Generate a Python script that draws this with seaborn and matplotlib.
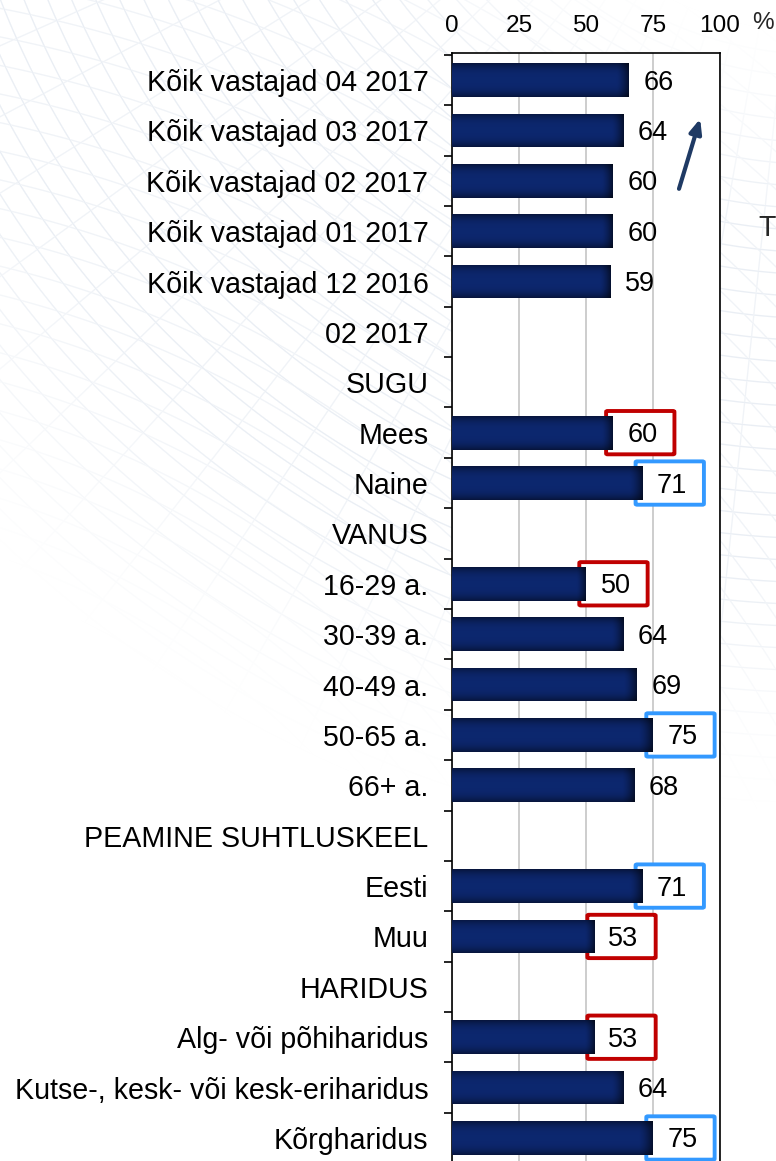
import numpy as np
import pandas as pd
import matplotlib
matplotlib.use("Agg")
import matplotlib.pyplot as plt
from matplotlib.patches import FancyBboxPatch
import seaborn as sns

# ---- data -------------------------------------------------------------
categories = [
    "Kõik vastajad 04 2017", "Kõik vastajad 03 2017", "Kõik vastajad 02 2017",
    "Kõik vastajad 01 2017", "Kõik vastajad 12 2016", "02 2017", "SUGU",
    "Mees", "Naine", "VANUS", "16-29 a.", "30-39 a.", "40-49 a.", "50-65 a.",
    "66+ a.", "PEAMINE SUHTLUSKEEL", "Eesti", "Muu", "HARIDUS",
    "Alg- või põhiharidus", "Kutse-, kesk- või kesk-eriharidus", "Kõrgharidus",
]
values = [66, 64, 60, 60, 59, None, None,
          60, 71, None, 50, 64, 69, 75,
          68, None, 71, 53, None,
          53, 64, 75]
# highlight: "low" = red frame, "high" = blue frame
highlight = [None, None, None, None, None, None, None,
             "low", "high", None, "low", None, None, "high",
             None, None, "high", "low", None,
             "low", None, "high"]
x_ticks = [0, 25, 50, 75, 100]

df = pd.DataFrame({"group": categories, "pct": values, "mark": highlight})
df_bars = df.dropna(subset=["pct"])

FONT = "Liberation Sans"
FS_CAT = 20.6
FS_VAL = 19.5
FS_TICK = 17.6
BAR = "#0b2260"
EDGE_COLORS = {"low": "#c00000", "high": "#3399ff"}

sns.set_theme(style="white")
plt.rcParams["font.family"] = [FONT, "DejaVu Sans"]

W, H = 776, 1161
fig = plt.figure(figsize=(W / 100, H / 100), dpi=100)

# ---- decorative slide background: faint curved grid ---------------------
bg = fig.add_axes([0, 0, 1, 1], zorder=0)
yy, xx = np.mgrid[0:H, 0:W].astype(float)
cx, cy = 820.0, -320.0
r = np.hypot(xx - cx, yy - cy)
th = np.degrees(np.arctan2(yy - cy, xx - cx))
d_ring = np.abs((r + 11) % 22 - 11)
ring = np.clip(1.2 - d_ring, 0, 1)
d_rad = np.abs((th + 2.0) % 4.0 - 2.0) * np.pi / 180 * r
rad = np.clip(1.2 - d_rad, 0, 1)
cx2, cy2 = -250.0, 1300.0
r2 = np.hypot(xx - cx2, yy - cy2)
d_ring2 = np.abs((r2 + 14) % 28 - 14)
ring2 = np.clip(1.2 - d_ring2, 0, 1)
pattern = np.maximum(np.maximum(ring, rad * 0.7), ring2 * 0.7)
fade = np.clip((1200 - r) / 250, 0, 1) * np.clip((r - 350) / 200, 0, 1)
fade *= np.clip((820 - yy) / 250, 0, 1)
rgba = np.zeros((H, W, 4))
rgba[..., 0] = 0.82
rgba[..., 1] = 0.86
rgba[..., 2] = 0.91
rgba[..., 3] = pattern * fade * 0.45
bg.imshow(rgba, extent=[0, W, H, 0], interpolation="bilinear", aspect="auto")
bg.set_xlim(0, W)
bg.set_ylim(H, 0)
bg.axis("off")

# ---- main chart ---------------------------------------------------------
left, right = 452 / W, 720 / W
top_px, row0_px, row_step = 53.3, 80.0, 50.38
n = len(categories)
ylim_top = -(row0_px - top_px) / row_step
ylim_bot = n - 0.5
bottom_px = row0_px + ylim_bot * row_step
ax = fig.add_axes([left, 1 - bottom_px / H, right - left, (bottom_px - top_px) / H], zorder=1)
ax.set_facecolor("white")

sns.barplot(data=df_bars, x="pct", y="group", order=categories, orient="h",
            color=BAR, width=0.67, saturation=1, ax=ax, zorder=3,
            linewidth=0, errorbar=None)

ax.set_xlim(0, 100)
ax.set_ylim(ylim_bot, ylim_top)

# shaded fill of each bar: darker towards the edges and the end
gy = np.linspace(-1, 1, 40)[:, None]
gx = np.linspace(0, 1, 200)[None, :]
shade = 0.55 + 0.45 * (1 - np.abs(gy) ** 3)
shade = shade * (1 - 0.55 * np.clip((gx - 0.93) / 0.07, 0, 1) ** 1.5)
base = np.array(matplotlib.colors.to_rgb(BAR))
grad = np.clip(shade[..., None] * base[None, None, :] * 1.15, 0, 1)
for p in ax.patches:
    x0, y0, w, h = p.get_x(), p.get_y(), p.get_width(), p.get_height()
    im = ax.imshow(grad, extent=[x0, x0 + w, y0 + h, y0], aspect="auto",
                   interpolation="bilinear", zorder=3.5)
    im.set_clip_path(p)

# value labels and highlight frames
for i, (cat, v, m) in enumerate(zip(categories, values, highlight)):
    if v is None:
        continue
    ax.text(v + 11, i + 0.05, f"{v}", ha="center", va="center",
            fontsize=FS_VAL, color="black", zorder=5, family=FONT)
    if m is not None:
        box = FancyBboxPatch((v - 2.5, i - 0.43), 25.5, 0.86,
                             boxstyle="round,pad=0,rounding_size=0.6",
                             facecolor="white", edgecolor=EDGE_COLORS[m],
                             linewidth=2.8, zorder=2.5, mutation_aspect=0.03)
        ax.add_patch(box)

# grid, spines and ticks
ax.set_xticks(x_ticks)
ax.set_xticklabels([str(t) for t in x_ticks])
ax.xaxis.tick_top()
ax.xaxis.set_label_position("top")
ax.tick_params(axis="x", length=0, pad=12, labelsize=FS_TICK)
ax.grid(axis="x", color="#c0c0c0", linewidth=1.1, zorder=1)
ax.set_axisbelow(True)
ax.set_yticks(range(n))
ax.set_yticklabels(categories)
ax.set_yticks(np.arange(-0.5, n, 1.0), minor=True)
ax.tick_params(axis="y", which="major", length=0, pad=17, labelsize=FS_CAT)
ax.tick_params(axis="y", which="minor", length=6, width=1.2, color="black", left=True)
for lab in ax.get_xticklabels() + ax.get_yticklabels():
    lab.set_family(FONT)
    lab.set_color("black")
for s in ax.spines.values():
    s.set_visible(True)
    s.set_color("black")
    s.set_linewidth(1.2)
ax.set_xlabel("")
ax.set_ylabel("")

# percent sign after the last tick label
fig.text(752 / W, 1 - 23 / H, "%", ha="left", va="center", fontsize=FS_TICK, family=FONT)

# trend arrow
ax.annotate("", xy=(92.6, 0.77), xytext=(84.7, 2.16),
            arrowprops=dict(arrowstyle="-|>,head_length=0.7,head_width=0.3",
                            lw=3.0, color="#1f3a64", shrinkA=0, shrinkB=0),
            annotation_clip=False, zorder=6)

# start of the side caption
fig.text(758 / W, 1 - 228 / H, "T", ha="left", va="center", fontsize=FS_CAT, family=FONT)

fig.savefig("out.png", dpi=100)
